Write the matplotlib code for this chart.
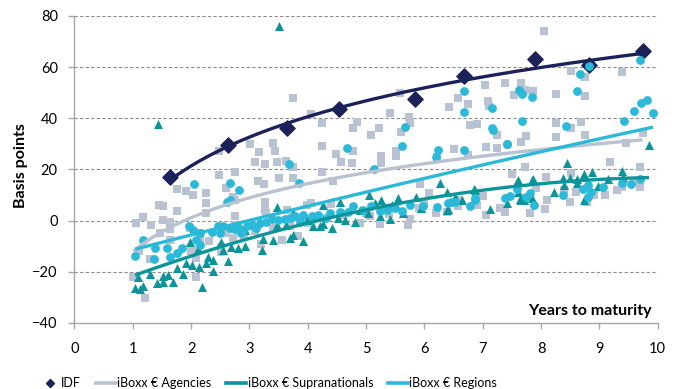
import numpy as np
import matplotlib
matplotlib.use("Agg")
import matplotlib.pyplot as plt
from matplotlib.lines import Line2D

plt.rcParams['font.family'] = ['Lato', 'DejaVu Sans']

# IDF bonds
idf_x = [1.64, 2.64, 3.64, 4.54, 5.84, 6.68, 7.90, 8.82, 9.74]
idf_y = [17.2, 29.6, 36.1, 43.5, 47.4, 56.5, 63.0, 60.8, 66.4]

# iBoxx EUR Agencies
agy_x = [8.05, 8.51, 8.75, 9.39, 5.58, 7.04, 7.39, 7.65, 7.73, 7.86, 7.53, 8.25, 8.75,
         3.75, 4.06, 4.25, 4.85, 4.77, 5.09, 5.22, 5.41, 5.74, 5.75, 6.57, 6.42, 6.74,
         7.09, 7.11, 6.78, 6.91, 5.59, 7.25, 7.75, 7.66, 8.25, 8.25, 8.52, 8.68, 8.75,
         5.52, 5.52, 5.25, 5.25, 6.51, 6.74, 7.06, 7.25, 7.72, 7.51, 8.08, 9.18, 9.45,
         9.74, 9.69, 5.92, 6.08, 6.21, 8.52,
         3.01, 3.16, 3.40, 3.44, 3.09, 3.27, 3.47, 3.62, 3.75, 4.25, 4.49, 4.57, 4.76,
         4.78, 2.48, 2.48, 2.75, 2.59, 3.14, 3.25, 3.50, 3.75, 4.25, 4.44, 1.75, 1.91,
         2.04, 2.25, 2.72,
         2.25, 2.60, 2.75, 1.45, 1.52, 1.75, 2.25, 2.75, 1.05, 1.17, 1.32, 1.52, 1.64,
         1.64, 1.47, 1.98, 2.15, 2.15, 2.09, 2.09, 1.64, 1.01, 1.21, 3.26, 3.26, 2.52,
         2.52, 2.75, 3.55, 2.72, 2.09, 3.29, 3.64, 3.99, 4.06, 4.40, 5.24, 5.75, 5.72,
         3.84, 6.58, 6.38, 5.32, 5.06, 7.06, 7.38, 7.81, 8.06, 8.49, 8.78, 9.09, 9.38,
         7.92,
         # partly covered by the other series
         4.20, 4.60, 5.00, 5.40, 5.90, 6.20, 6.60, 6.90, 7.30, 7.70, 8.10, 8.40, 8.90,
         9.30, 9.60, 9.70, 4.90, 6.00, 7.00, 8.60, 2.30, 2.60, 2.90, 3.10, 3.40, 3.70,
         4.00, 3.20, 2.00, 1.30, 1.10]
agy_y = [74.2, 58.6, 56.3, 58.2, 50.0, 53.0, 53.9, 53.7, 51.0, 50.8, 49.1, 49.5, 48.7,
         48.0, 41.7, 38.0, 38.7, 36.3, 33.5, 36.1, 42.2, 40.4, 38.0, 48.0, 44.5, 45.6,
         46.9, 44.8, 37.4, 37.8, 34.8, 33.5, 33.2, 30.9, 38.3, 32.8, 36.3, 38.7, 33.5,
         27.2, 25.3, 25.3, 22.7, 27.9, 25.7, 28.7, 28.3, 21.1, 18.2, 16.9, 23.0, 30.2,
         34.4, 21.1, 14.3, 10.9, 25.0, 18.5,
         29.8, 27.0, 30.2, 27.3, 23.0, 22.0, 22.8, 23.4, 21.0, 29.3, 26.0, 22.8, 22.4,
         27.2, 27.3, 17.9, 18.8, 12.9, 15.5, 14.2, 16.8, 16.8, 18.8, 15.6, 12.3, 11.7,
         9.8, 10.7, 9.1,
         7.0, 12.7, 8.1, 6.1, 5.7, 3.9, 2.9, 1.8, -0.8, 1.3, -1.7, 0.3, -0.4,
         -3.4, -4.9, -3.0, -4.9, -7.5, -14.7, -21.9, -7.5, -21.9, -30.3, 7.4, 4.2, -10.2,
         -12.1, -1.7, -7.5, -6.9, -11.4, 2.9, 4.2, 6.1, 6.8, 6.5, -1.3, 0.5, -1.7,
         -6.2, 5.5, 3.5, 4.2, 1.6, 2.2, 3.5, 2.9, 4.4, 7.4, 7.4, 10.0, 13.3,
         12.7,
         1.0, 2.0, 3.0, 2.5, 5.0, 3.0, 8.0, 6.0, 5.0, 9.0, 8.0, 12.0, 10.0,
         12.0, 15.0, 13.0, -1.0, 7.0, 9.5, 11.0, -8.0, -5.0, -6.0, -4.0, -3.0, -2.0,
         -1.0, -9.0, -12.0, -15.0, -12.0]

# iBoxx EUR Supranationals
sup_x = [1.43, 3.51, 9.85,
         1.04, 1.12, 1.18, 1.09, 1.29, 1.41, 1.52, 1.52, 1.61, 1.69, 1.75, 1.86, 1.91,
         1.98, 2.01, 2.11, 2.14, 2.19, 2.26, 2.29, 2.37, 2.37, 2.52, 2.55, 2.63, 2.69,
         2.81, 2.92, 2.92, 3.21, 3.24, 3.40, 3.47, 3.47, 3.62, 3.69, 3.75, 3.75, 3.92,
         3.98, 4.26, 4.26, 4.41, 4.55, 4.64, 4.81, 4.89, 5.05, 5.04,
         4.09, 4.21, 4.52, 5.15, 5.24, 5.26, 5.41, 5.44, 5.55, 5.63, 5.86, 5.95, 6.26,
         6.38, 6.40, 6.52, 6.64, 6.85, 6.38, 6.86, 7.58, 7.84, 7.65,
         7.12, 7.41, 7.60, 7.61, 7.64, 7.71, 7.86, 7.84, 8.22, 8.38, 8.39, 8.44, 8.49,
         8.61, 8.62, 8.74, 8.74, 8.88, 8.98, 9.14, 9.39, 9.40]
sup_y = [37.7, 76.0, 29.6,
         -26.4, -26.8, -25.5, -21.9, -20.9, -24.5, -24.2, -21.6, -21.2, -24.2, -18.4, -20.9, -16.6,
         -8.2, -17.3, -11.2, -18.0, -25.8, -16.6, -14.4, -15.4, -19.9, -8.2, -11.4, -16.0, -10.2,
         -10.8, -9.9, -3.6, -11.4, -7.3, -7.5, 5.2, -1.7, -1.7, -6.9, 2.9, -5.6, -7.8,
         0.3, 6.1, -1.3, -3.0, 7.4, 0.3, -0.4, 4.2, 10.0, 2.9,
         -2.3, -2.3, 0.9, 6.8, 1.6, 8.1, 0.5, 6.1, 8.7, 2.9, 9.4, 4.8, 14.6,
         11.3, 4.4, 9.4, 8.1, 12.3, 4.2, 12.0, 15.2, 15.9, 8.1,
         4.4, 7.0, 15.9, 11.3, 8.4, 8.1, 16.2, 8.7, 11.3, 16.6, 13.9, 22.7, 16.6,
         16.2, 14.6, 18.1, 8.1, 18.8, 13.6, 16.2, 19.5, 17.2]

# iBoxx EUR Regions
reg_x = [9.69, 8.82, 8.67, 8.62, 7.62, 7.68, 7.84, 6.68, 6.68, 7.16, 7.16, 7.68, 8.42,
         5.66, 9.43, 9.59, 9.71, 9.82, 9.92,
         5.62, 6.23, 6.20, 6.68, 7.41, 7.18, 7.42,
         2.05, 2.66, 2.82, 3.68, 3.85, 4.68, 5.13,
         2.61, 2.66, 1.18, 1.04, 1.38, 1.37, 1.58, 1.64, 1.84, 1.97, 2.03, 2.09, 2.15,
         1.75, 2.15, 2.35, 2.46, 2.55, 2.66, 2.75, 2.81, 2.89, 2.95, 3.04, 3.12, 3.18,
         3.29, 3.38, 3.49, 3.61, 3.69, 3.78, 3.86, 2.49, 2.86,
         3.92, 4.07, 4.18, 4.32, 4.38, 4.55, 4.69, 4.78, 4.95, 5.09, 5.24, 5.35, 5.49,
         5.61, 5.75, 5.98, 6.21, 6.41, 6.46, 6.52, 6.78, 6.86,
         6.86, 7.38, 7.46, 7.58, 7.75, 7.81, 7.88, 8.38, 8.72, 8.80, 8.80, 8.86, 9.06,
         9.38, 9.55, 9.69]
reg_y = [62.8, 60.5, 57.2, 50.7, 51.0, 49.4, 48.4, 50.7, 42.3, 44.1, 36.3, 38.9, 37.0,
         36.7, 38.9, 42.8, 45.8, 47.1, 42.0,
         29.3, 27.6, 25.0, 27.6, 30.0, 35.4, 29.8,
         14.2, 14.8, 12.0, 22.0, 14.8, 28.5, 20.2,
         7.4, 8.1, -7.5, -13.8, -10.8, -15.1, -10.8, -14.3, -10.8, -2.3, -3.6, -7.5, -9.5,
         -12.7, -4.9, -4.3, -2.3, -2.3, -3.0, -3.4, -2.6, -3.6, -2.3, -1.7, -3.0, -1.0,
         -0.4, 0.5, 0.3, 0.5, 0.9, 1.6, -0.4, -4.9, -4.9,
         2.2, 1.6, 2.2, 0.9, 2.9, 3.5, 3.5, 5.5, 4.2, 5.5, 3.9, 4.2, 4.8,
         3.9, 6.1, 5.5, 5.2, 6.8, 7.4, 7.4, 5.7, 8.1,
         8.7, 8.7, 9.6, 12.3, 9.4, 10.9, 6.1, 10.0, 12.3, 13.9, 9.4, 11.3, 13.0,
         14.8, 14.3, 16.2]

navy = '#1b2159'
grey = '#b8c2d2'
teal = '#0b959a'
cyan = '#2ab9d9'


def log_trend(x, y):
    x = np.asarray(x)
    b, a = np.polyfit(np.log(x), y, 1)
    xs = np.linspace(x.min(), x.max(), 200)
    return xs, a + b * np.log(xs)


def poly_trend(x, y, deg=2):
    x = np.asarray(x)
    c = np.polyfit(x, y, deg)
    xs = np.linspace(x.min(), x.max(), 200)
    return xs, np.polyval(c, xs)


fig = plt.figure(figsize=(6.83, 3.89), dpi=100)
ax = fig.add_axes([0.109, 0.170, 0.854, 0.789])

ax.scatter(idf_x, idf_y, marker='D', s=60, color=navy, zorder=3)
ax.scatter(agy_x, agy_y, marker='s', s=30, color=grey, linewidths=0, zorder=3)
ax.scatter(sup_x, sup_y, marker='^', s=42, color=teal, linewidths=0, zorder=3)
ax.scatter(reg_x, reg_y, marker='o', s=40, color=cyan, linewidths=0, zorder=3)

for xs, ys, c in [log_trend(idf_x, idf_y) + (navy,),
                  log_trend(agy_x, agy_y) + (grey,),
                  poly_trend(sup_x, sup_y) + (teal,),
                  poly_trend(reg_x, reg_y) + (cyan,)]:
    ax.plot(xs, ys, color=c, lw=2.4, zorder=4, solid_capstyle='butt')

ax.set_xlim(0, 10)
ax.set_ylim(-40, 80)
ax.set_xticks(range(0, 11))
ax.set_yticks(range(-40, 81, 20))
for v in range(-20, 81, 20):
    ax.axhline(v, color='#8c8c8c', lw=0.8, ls=(0, (3, 2)), zorder=1)

for s in ['top', 'right']:
    ax.spines[s].set_visible(False)
for s in ['left', 'bottom']:
    ax.spines[s].set_color('#a6a6a6')
    ax.spines[s].set_linewidth(1.0)
ax.tick_params(axis='both', colors='#a6a6a6', labelcolor='black', labelsize=10.5,
               length=4, width=1.0, direction='out')
ax.tick_params(axis='x', pad=10)
ax.tick_params(axis='y', pad=8)

ax.set_ylabel('Basis points', fontsize=11.5, fontweight='bold')
ax.yaxis.set_label_coords(-0.080, 0.511)
ax.text(0.99, 0.015, 'Years to maturity', transform=ax.transAxes, ha='right',
        va='bottom', fontsize=11.5, fontweight='bold')

handles = [
    Line2D([], [], marker='D', color=navy, ls='none', markersize=4.5),
    Line2D([], [], color=grey, lw=2.6),
    Line2D([], [], color=teal, lw=2.6),
    Line2D([], [], color=cyan, lw=2.6),
]
labels = ['IDF', 'iBoxx € Agencies', 'iBoxx € Supranationals', 'iBoxx € Regions']
fig.legend(handles, labels, loc='center left', bbox_to_anchor=(0.051, 0.0154),
           ncol=4, frameon=False, fontsize=9.0, handlelength=1.6,
           handletextpad=0.1, columnspacing=1.2, borderaxespad=0)

fig.savefig('out.png', dpi=100)
